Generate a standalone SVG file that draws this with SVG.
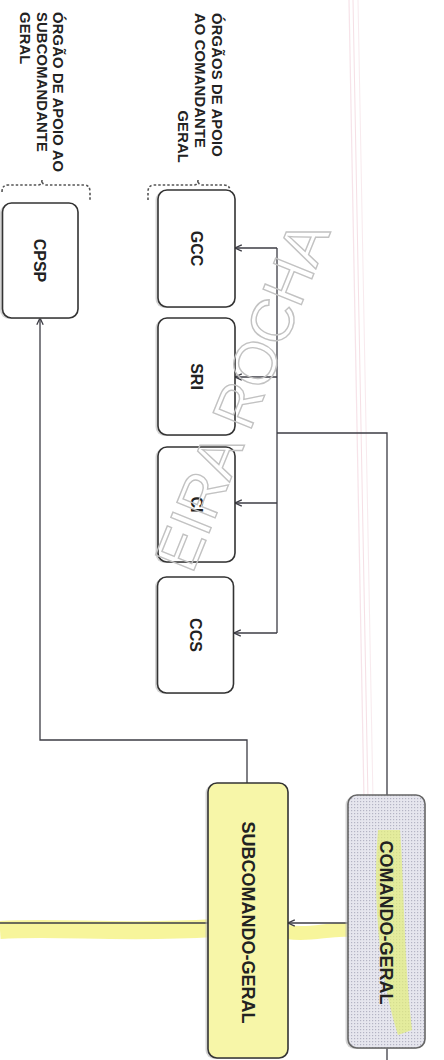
<svg xmlns="http://www.w3.org/2000/svg" width="444" height="1060" viewBox="0 0 444 1060">
<style>
.box{fill:#fff;stroke:#333;stroke-width:1.6}
.shadow{fill:#b9b9b9;opacity:0.6}
.lbl{font-family:"Liberation Sans",Arial,sans-serif;font-weight:bold;fill:#222;text-anchor:middle}
.big{font-size:18px}
.mid{font-size:16px}
.grp{font-family:"Liberation Sans",Arial,sans-serif;font-weight:bold;fill:#222;font-size:14.8px;letter-spacing:0.15px}
.conn{fill:none;stroke:#3c3c44;stroke-width:1.3}
.brace{fill:none;stroke:#555;stroke-width:1.6;stroke-dasharray:2.5 2}
.wm{font-family:"Liberation Sans",Arial,sans-serif;font-size:60px;fill:none;stroke:#c2c2c2;stroke-width:1.4}
</style>
<defs>
<marker id="arr" viewBox="0 0 10 10" refX="9.5" refY="5" markerWidth="8" markerHeight="8" orient="auto" markerUnits="userSpaceOnUse">
<path d="M1,1 L9.5,5 L1,9" fill="none" stroke="#3c3c44" stroke-width="1.6"/>
</marker>
<pattern id="dots" width="3" height="3" patternUnits="userSpaceOnUse">
<rect width="3" height="3" fill="#e6e6ee"/>
<rect x="0" y="0" width="1.2" height="1.2" fill="#b4b4c4"/>
</pattern>
</defs>
<rect width="444" height="1060" fill="#fff"/>
<!-- scanner artifact lines -->
<g opacity="0.5">
<line x1="349" y1="0" x2="364" y2="800" stroke="#f0c8d4" stroke-width="1.2"/>
<line x1="353" y1="0" x2="368" y2="800" stroke="#eec0cc" stroke-width="1"/>
<line x1="358" y1="0" x2="373" y2="800" stroke="#f3d6de" stroke-width="1"/>
</g>
<!-- highlighter -->
<path d="M0,930 C60,926 120,934 214,928" stroke="#f4f27a" stroke-width="18" fill="none" opacity="0.75"/>
<path d="M288,932 C310,936 330,928 350,930" stroke="#f4f27a" stroke-width="14" fill="none" opacity="0.75"/>
<!-- group labels -->
<g id="label-apoio-sub">
<text class="grp" transform="translate(53,12) rotate(90)"><tspan x="0" y="0">ÓRGÃO DE APOIO AO</tspan><tspan x="0" y="16.5">SUBCOMANDANTE</tspan><tspan x="0" y="33">GERAL</tspan></text>
<path class="brace" d="M2,192 Q2,185 8,185 L38,185 Q42,185 42,180 Q42,185 46,185 L84,185 Q90,185 90,192 L90,200"/>
</g>
<g id="label-apoio-cmd">
<text class="grp" transform="translate(212,13) rotate(90)"><tspan x="0" y="0">ÓRGÃOS DE APOIO</tspan><tspan x="0" y="17">AO COMANDANTE</tspan></text>
<text class="grp" transform="translate(178,163) rotate(90)" text-anchor="end">GERAL</text>
<path class="brace" d="M148,200 L148,192 Q148,185 154,185 L194,185 Q198,185 198,180 Q198,185 202,185 L224,185 Q230,185 230,191 L230,197"/>
</g>
<!-- connectors -->
<g id="connectors">
<path class="conn" d="M387,795 L387,433 L277,433"/>
<path class="conn" d="M277,248 L277,633"/>
<path class="conn" d="M277,248 L235,248" marker-end="url(#arr)"/>
<path class="conn" d="M277,377 L235,377" marker-end="url(#arr)"/>
<path class="conn" d="M277,503 L235,503" marker-end="url(#arr)"/>
<path class="conn" d="M277,633 L234,633" marker-end="url(#arr)"/>
<path class="conn" d="M387,1048 L387,1060"/>
<path class="conn" d="M348,923 L288,923" marker-end="url(#arr)"/>
<path class="conn" d="M208,923 L0,923"/>
<path class="conn" d="M247,783 L247,740 L40,740 L40,318" marker-end="url(#arr)"/>
</g>
<!-- nodes -->
<g id="node-cpsp">
<rect class="shadow" x="0" y="204" width="76" height="115" rx="9"/>
<rect class="box" x="2.5" y="203" width="75.5" height="115" rx="9"/>
<text class="lbl mid" transform="translate(40,260.5) rotate(90)" dy="0.35em">CPSP</text>
</g>
<g id="node-gcc">
<rect class="shadow" x="155.5" y="191" width="77" height="117" rx="9"/>
<rect class="box" x="158" y="190" width="77" height="117" rx="9"/>
<text class="lbl mid" transform="translate(196.5,248.5) rotate(90)" dy="0.35em">GCC</text>
</g>
<g id="node-sri">
<rect class="shadow" x="155.5" y="319" width="77" height="117" rx="9"/>
<rect class="box" x="158" y="318" width="77" height="117" rx="9"/>
<text class="lbl mid" transform="translate(196.5,376.5) rotate(90)" dy="0.35em">SRI</text>
</g>
<g id="node-ci">
<rect class="shadow" x="155.5" y="448" width="77" height="115" rx="9"/>
<rect class="box" x="158" y="447" width="77" height="115" rx="9"/>
<text class="lbl mid" transform="translate(196.5,504.5) rotate(90)" dy="0.35em">CI</text>
</g>
<g id="node-ccs">
<rect class="shadow" x="155" y="578" width="76" height="116" rx="9"/>
<rect class="box" x="157.5" y="577" width="76" height="116" rx="9"/>
<text class="lbl mid" transform="translate(195.5,635) rotate(90)" dy="0.35em">CCS</text>
</g>
<g id="node-subcomando">
<rect class="shadow" x="205.5" y="784" width="80" height="275" rx="9"/>
<rect class="box" x="208" y="783" width="80" height="275" rx="9" style="fill:#f7f6a8"/>
<text class="lbl big" transform="translate(248,922.5) rotate(90)" dy="0.35em">SUBCOMANDO-GERAL</text>
</g>
<g id="node-comando">
<rect class="shadow" x="345.5" y="796" width="77" height="253" rx="9"/>
<rect class="box" x="348" y="795" width="77" height="253" rx="9" style="fill:url(#dots);stroke:#666"/>
<path d="M378,830 C372,900 380,980 398,1035 L412,1030 C404,960 404,880 400,830 Z" fill="#e2ee7a" opacity="0.7"/>
<text class="lbl big" transform="translate(386.5,922.5) rotate(90)" dy="0.35em">COMANDO-GERAL</text>
</g>
<!-- watermark -->
<text class="wm" transform="translate(192,575) rotate(-68)">EIRA ROCHA</text>
</svg>
